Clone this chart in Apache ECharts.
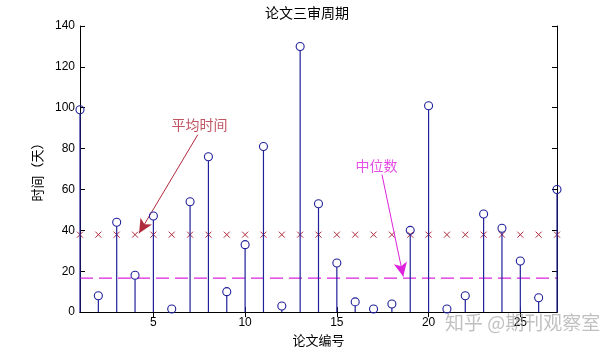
<!DOCTYPE html>
<html><head><meta charset="utf-8">
<script src="https://cdn.jsdelivr.net/npm/echarts@6/dist/echarts.min.js"></script>
<style>html,body{margin:0;padding:0;background:#fff}#c{width:614px;height:352px}</style>
</head><body><div id="c"></div>
<script>
// ---- data ----
const paperIds = [1,2,3,4,5,6,7,8,9,10,11,12,13,14,15,16,17,18,19,20,21,22,23,24,25,26,27];
const reviewDays = [99,8,44,18,47,1.5,54,76,10,33,81,3,130,53,24,5,1.5,4,40,101,1.5,8,48,41,25,7,60];
const meanDays = 37.9;
const medianDays = 16.6;
const xTickValues = [5,10,15,20,25];
const yTickMin = 0, yTickMax = 140, yTickStep = 20;
const titleText = '论文三审周期';
const xAxisName = '论文编号';
const yAxisName = '时间（天）';
const meanLabel = '平均时间';
const medianLabel = '中位数';
const meanArrow = [[7.42, 86.8], [4.22, 38.6]];
const medianArrow = [[17.46, 67.3], [18.62, 17.4]];
const meanLabelPos = [7.51, 91.7];
const medianLabelPos = [17.16, 71.7];

const stemColor = '#20209a';
const meanColor = '#b02a3c';
const medColor = '#dd22dd';
const font = 'Liberation Sans, Arial, sans-serif';
const cjk = 'Noto Sans CJK SC, sans-serif';

const chart = echarts.init(document.getElementById('c'));
const axisCommon = {
  axisLine: {show: true, lineStyle: {color: '#000', width: 1}},
  axisTick: {show: true, inside: true, length: 5, lineStyle: {color: '#000'}},
  splitLine: {show: false}
};
chart.setOption({
  animation: false,
  backgroundColor: '#fff',
  title: {text: titleText, left: 'center', top: 1, textStyle: {fontFamily: cjk, fontSize: 14, fontWeight: 'normal', color: '#000'}},
  grid: {left: 80, right: 57, top: 26, bottom: 39},
  xAxis: [
    Object.assign({type: 'value', min: 1, max: 27, position: 'bottom',
      axisLabel: {customValues: xTickValues, color: '#000', fontFamily: font, fontSize: 12, margin: 5},
      name: xAxisName, nameLocation: 'middle', nameGap: 20,
      nameTextStyle: {fontFamily: cjk, fontSize: 13, color: '#000'}}, axisCommon,
      {axisTick: Object.assign({}, axisCommon.axisTick, {customValues: xTickValues})}),
    Object.assign({type: 'value', min: 1, max: 27, position: 'top',
      axisLabel: {show: false, customValues: xTickValues}}, axisCommon,
      {axisTick: Object.assign({}, axisCommon.axisTick, {customValues: xTickValues})})
  ],
  yAxis: [
    Object.assign({type: 'value', min: yTickMin, max: yTickMax, interval: yTickStep, position: 'left',
      axisLabel: {color: '#000', fontFamily: font, fontSize: 12, margin: 5},
      name: yAxisName, nameLocation: 'middle', nameGap: 36, nameRotate: 90,
      nameTextStyle: {fontFamily: cjk, fontSize: 13, color: '#000'}}, axisCommon),
    Object.assign({type: 'value', min: yTickMin, max: yTickMax, interval: yTickStep, position: 'right',
      axisLabel: {show: false}}, axisCommon)
  ],
  series: [
    {
      type: 'custom', name: 'stems', clip: false,
      data: paperIds.map((x, i) => [x, reviewDays[i]]),
      renderItem: function (params, api) {
        const p0 = api.coord([api.value(0), 0]);
        const p1 = api.coord([api.value(0), api.value(1)]);
        return {type: 'group', children: [
          {type: 'line', shape: {x1: p0[0], y1: p0[1], x2: p1[0], y2: p1[1] + 4},
            style: {stroke: stemColor, lineWidth: 1.2}},
          {type: 'circle', shape: {cx: p1[0], cy: p1[1], r: 4},
            style: {fill: 'none', stroke: stemColor, lineWidth: 1.1}}
        ]};
      },
      z: 5
    },
    {
      type: 'custom', name: 'meanMarks', clip: false,
      data: paperIds.map(x => [x, meanDays]),
      renderItem: function (params, api) {
        const p = api.coord([api.value(0), api.value(1)]);
        const s = 3;
        return {type: 'group', children: [
          {type: 'line', shape: {x1: p[0]-s, y1: p[1]-s, x2: p[0]+s, y2: p[1]+s}, style: {stroke: meanColor, lineWidth: 1}},
          {type: 'line', shape: {x1: p[0]-s, y1: p[1]+s, x2: p[0]+s, y2: p[1]-s}, style: {stroke: meanColor, lineWidth: 1}}
        ]};
      },
      z: 4
    },
    {
      type: 'line', name: 'median', symbol: 'none',
      data: [[paperIds[0], medianDays], [paperIds[paperIds.length-1], medianDays]],
      lineStyle: {color: medColor, width: 1.3, type: [13, 6]},
      z: 2
    },
    {
      type: 'scatter', name: 'annot', symbolSize: 0,
      data: [
        {value: meanLabelPos, label: {show: true, formatter: meanLabel, color: meanColor}},
        {value: medianLabelPos, label: {show: true, formatter: medianLabel, color: medColor}}
      ],
      label: {position: 'inside', fontFamily: cjk, fontSize: 14},
      markLine: {
        silent: true, symbol: ['none', 'arrow'], symbolSize: [10, 14],
        label: {show: false},
        data: [
          [{coord: meanArrow[0], lineStyle: {color: meanColor, width: 1, type: 'solid'}, itemStyle: {color: '#e0202a'}}, {coord: meanArrow[1], itemStyle: {color: '#e0202a'}}],
          [{coord: medianArrow[0], lineStyle: {color: medColor, width: 1, type: 'solid'}, itemStyle: {color: medColor}}, {coord: medianArrow[1], itemStyle: {color: medColor}}]
        ]
      },
      z: 6
    }
  ],
  graphic: [
    {type: 'text', left: 445, top: 313, style: {text: '知乎 @期刊观察室', fill: 'rgba(150,150,150,0.6)', font: '19px Noto Sans CJK SC'}, z: 10}
  ]
});
</script></body></html>
